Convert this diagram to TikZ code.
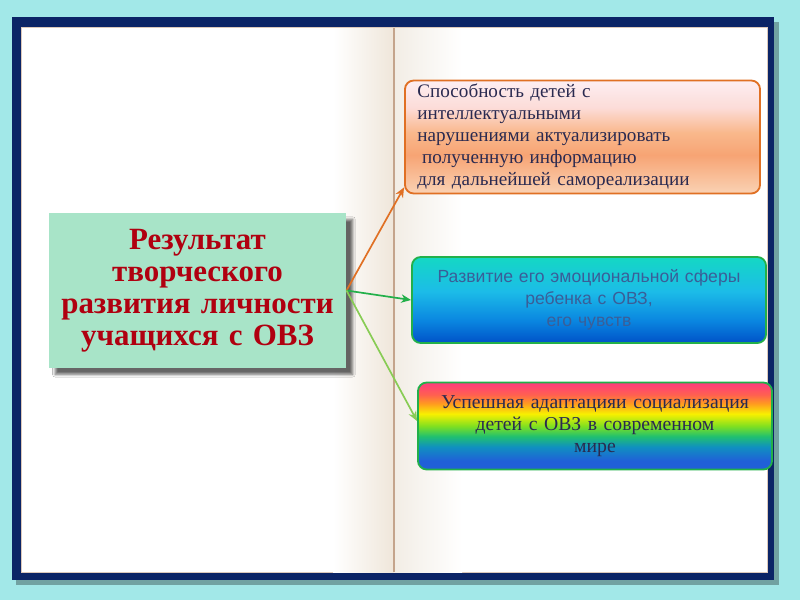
\documentclass[tikz,border=0pt]{standalone}
\usepackage{fontspec}
\setmainfont{Liberation Serif}
\setsansfont{Liberation Sans}
\usetikzlibrary{arrows.meta,shadows.blur}
\definecolor{bgcyan}{HTML}{A2E8E8}
\definecolor{navy}{HTML}{0B2466}
\definecolor{spine}{HTML}{C4A48C}
\definecolor{pagebeige}{HTML}{EFE6DA}
\definecolor{pagebeigeR}{HTML}{F2EDE5}
\definecolor{mainfill}{HTML}{A8E4C8}
\definecolor{maintext}{HTML}{B00010}
\definecolor{orborder}{HTML}{E07024}
\definecolor{grborder}{HTML}{22B04A}
\definecolor{lgarrow}{HTML}{88CC55}
\definecolor{bluetext}{HTML}{3A5E98}
\definecolor{darktext}{HTML}{2A2A50}
\definecolor{pA}{HTML}{FAD2B4}
\definecolor{pB}{HTML}{F7A474}
\definecolor{pC}{HTML}{F9B88C}
\definecolor{pD}{HTML}{FCDCD8}
\definecolor{pE}{HTML}{FDEEF2}
\definecolor{sA}{HTML}{0052C8}
\definecolor{sB}{HTML}{0A86E0}
\definecolor{sC}{HTML}{1CBCE8}
\definecolor{sD}{HTML}{14D8C4}
\definecolor{rA}{HTML}{2060D8}
\definecolor{rB}{HTML}{1090C0}
\definecolor{rC}{HTML}{20C070}
\definecolor{rD}{HTML}{80E020}
\definecolor{rE}{HTML}{F8F000}
\definecolor{rF}{HTML}{FF9A20}
\definecolor{rG}{HTML}{FF6050}
\definecolor{rH}{HTML}{FF3A7E}
\pgfdeclareverticalshading{peach}{100bp}{color(0bp)=(pA);color(25bp)=(pA);color(42bp)=(pB);color(52bp)=(pC);color(63bp)=(pD);color(75bp)=(pE);color(100bp)=(pE)}
\pgfdeclareverticalshading{seablue}{100bp}{color(0bp)=(sA);color(25bp)=(sA);color(38bp)=(sB);color(55bp)=(sC);color(75bp)=(sD);color(100bp)=(sD)}
\pgfdeclareverticalshading{rainbow}{100bp}{color(0bp)=(rA);color(30bp)=(rA);color(38bp)=(rB);color(44bp)=(rC);color(50bp)=(rD);color(57bp)=(rE);color(63bp)=(rF);color(68bp)=(rG);color(75bp)=(rH);color(100bp)=(rH)}
\tikzset{
  px/.style={x=0.025cm,y=-0.025cm},
  box/.style={rounded corners=0.22cm, line width=1.3pt, inner ysep=0pt},
  conn/.style={line width=1.2pt,-{Stealth[length=7pt,width=6pt]}}
}
\begin{document}
\begin{tikzpicture}[px]
\useasboundingbox (0,0) rectangle (800,600);
\fill[bgcyan] (0,0) rectangle (800,600);
% frame shadow
\fill[black!30!bgcyan] (16,22) rectangle (779,585);
\fill[navy] (12,17) rectangle (774,580);
\fill[spine!60!white] (21,27) rectangle (768,573);
\fill[white] (22,28) rectangle (767,572);
% page shading near spine
\shade[left color=white, right color=pagebeige] (333,28) rectangle (394,572);
\shade[left color=pagebeigeR, right color=white] (394,28) rectangle (462,572);
\draw[spine, line width=1.4pt] (394,28) -- (394,572);
% main box
\node[draw=none, fill=mainfill, minimum width=7.375cm, minimum height=3.875cm,
  text width=7.2cm, align=center, font=\fontsize{22}{22.8}\selectfont\bfseries, text=maintext,
  blur shadow={shadow xshift=0.16cm, shadow yshift=-0.16cm, shadow blur steps=8, shadow opacity=60}]
  (main) at (197.5,290.5) {Результат\\творческого\\развития личности\\учащихся с ОВЗ};
% box 1
\node[box, draw=orborder, shading=peach, minimum height=2.825cm,
  text width=8.25cm, inner xsep=0.3125cm, align=left, text=darktext,
  font=\fontsize{13.6}{15.7}\selectfont]
  (b1) at (582.5,137) {Способность детей с\\интеллектуальными\\нарушениями актуализировать\\\hspace{0.25em}полученную информацию\\для дальнейшей самореализации};
% box 2
\node[box, draw=grborder, shading=seablue, minimum height=2.15cm,
  text width=8.25cm, inner xsep=0.3cm, align=center, text=bluetext,
  font=\sffamily\fontsize{12.5}{15.6}\selectfont]
  (b2) at (589,300) {Развитие его эмоциональной сферы\\ребенка с ОВЗ,\\его чувств};
% box 3
\node[box, draw=grborder, shading=rainbow, minimum height=2.175cm,
  text width=8.25cm, inner xsep=0.3cm, align=center, text=darktext,
  font=\fontsize{14}{15.6}\selectfont]
  (b3) at (595,426) {Успешная адаптацияи социализация\\детей с ОВЗ в современном\\мире};
% connectors
\coordinate (a1) at ([shift={(0,-7)}]b1.south west);
\draw[conn, orborder] (main.east) -- (a1);
\draw[conn, grborder] (main.east) -- (b2.west);
\draw[conn, lgarrow] (main.east) -- ([shift={(0,-5)}]b3.west);
\end{tikzpicture}
\end{document}
